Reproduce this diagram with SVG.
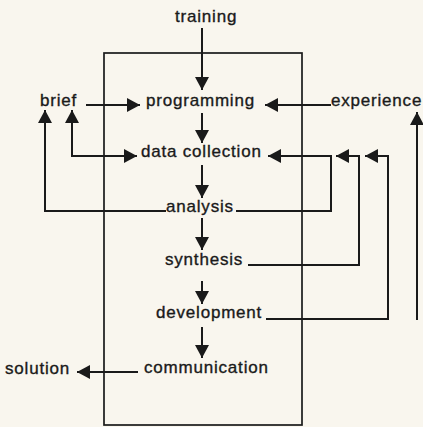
<svg xmlns="http://www.w3.org/2000/svg" width="423" height="427" viewBox="0 0 423 427">
<style>
.bg{fill:#f9f6ee}
text{font-family:"Liberation Sans",Arial,sans-serif;font-size:17px;letter-spacing:0.8px;fill:#1a1a1a;stroke:#1a1a1a;stroke-width:0.35}
.box{fill:none;stroke:#1a1a1a;stroke-width:1.7}
.c{fill:none;stroke:#1a1a1a;stroke-width:2}
.a{marker-end:url(#ah)}
.b{marker-start:url(#ah);marker-end:url(#ah)}
</style>
<defs>
<marker id="ah" markerUnits="userSpaceOnUse" markerWidth="14" markerHeight="14" refX="13" refY="7" orient="auto-start-reverse" viewBox="0 0 14 14">
<path d="M0,0 L13,7 L0,14 z" fill="#1a1a1a"/>
</marker>
</defs>
<rect class="bg" width="423" height="427"/>
<rect id="frame" class="box" x="104" y="53" width="198" height="372"/>
<g id="connectors">
<path class="c a" d="M202,28 V90"/>
<path class="c a" d="M202,113 V143"/>
<path class="c a" d="M202,165 V198"/>
<path class="c a" d="M202,218 V250"/>
<path class="c a" d="M202,281 V304"/>
<path class="c a" d="M202,327 V358"/>
<path class="c a" d="M86,105 H140"/>
<path class="c a" d="M331,105 H265"/>
<path class="c b" d="M72,110 V156 H137"/>
<path class="c a" d="M166,211 H45 V110"/>
<path class="c a" d="M236,211 H331 V156 H268"/>
<path class="c a" d="M248,265 H359 V156 H336"/>
<path class="c a" d="M266,319 H388 V156 H365"/>
<path class="c a" d="M138,372 H77"/>
<path class="c a" d="M417,320 V112"/>
</g>
<g id="training"><text x="175" y="22">training</text></g>
<g id="brief"><text x="40" y="106">brief</text></g>
<g id="programming"><text x="146" y="106">programming</text></g>
<g id="experience"><text x="331" y="106">experience</text></g>
<g id="data-collection"><text x="141" y="157">data collection</text></g>
<g id="analysis"><text x="166" y="212">analysis</text></g>
<g id="synthesis"><text x="165" y="265">synthesis</text></g>
<g id="development"><text x="156" y="318">development</text></g>
<g id="communication"><text x="144" y="373">communication</text></g>
<g id="solution"><text x="5" y="374">solution</text></g>
</svg>
